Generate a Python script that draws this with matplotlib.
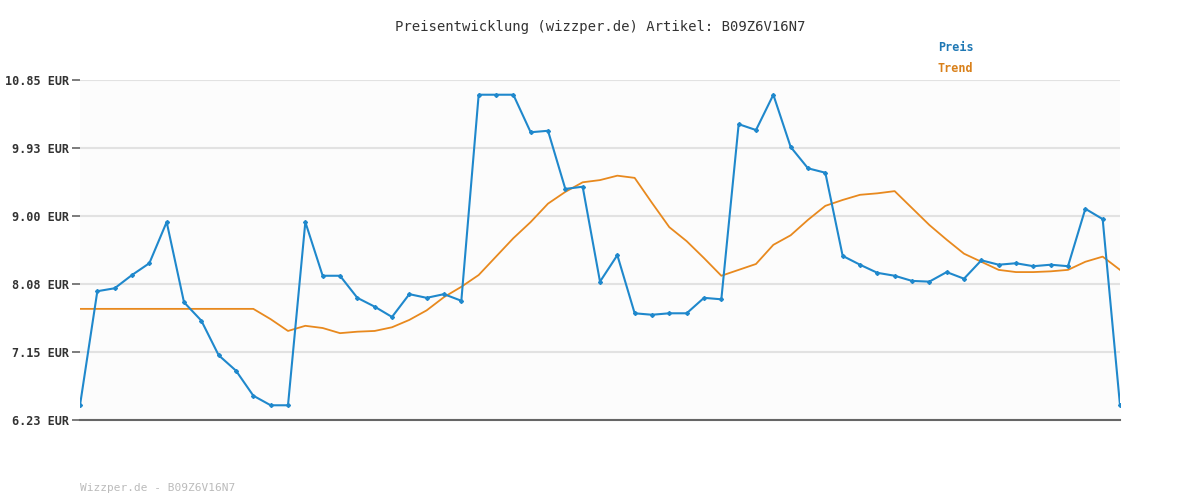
import matplotlib.pyplot as plt

plt.rcParams['font.family'] = 'DejaVu Sans Mono'

preis = [6.43, 7.98, 8.02, 8.20, 8.36, 8.92, 7.83, 7.58, 7.11, 6.90,
         6.56, 6.43, 6.43, 8.92, 8.19, 8.19, 7.89, 7.77, 7.63, 7.94,
         7.89, 7.94, 7.85, 10.65, 10.65, 10.65, 10.14, 10.16, 9.37, 9.40,
         8.11, 8.47, 7.68, 7.66, 7.68, 7.68, 7.89, 7.87, 10.25, 10.17,
         10.65, 9.94, 9.65, 9.59, 8.46, 8.34, 8.23, 8.19, 8.12, 8.11,
         8.24, 8.15, 8.40, 8.34, 8.36, 8.32, 8.34, 8.32, 9.10, 8.96,
         6.43]
trend = [7.74] * 11 + [
         7.60, 7.44, 7.51, 7.48, 7.41, 7.43, 7.44, 7.49, 7.59, 7.72,
         7.90, 8.04, 8.20, 8.45, 8.70, 8.92, 9.17, 9.33, 9.46, 9.49,
         9.55, 9.52, 9.18, 8.85, 8.66, 8.43, 8.19, 8.27, 8.35, 8.61,
         8.74, 8.95, 9.14, 9.22, 9.29, 9.31, 9.34, 9.11, 8.88, 8.68,
         8.49, 8.38, 8.27, 8.24, 8.24, 8.25, 8.27, 8.38, 8.45, 8.27]
yticks = [6.23, 7.15, 8.08, 9.00, 9.93, 10.85]
ytick_labels = ['6.23 EUR', '7.15 EUR', '8.08 EUR', '9.00 EUR', '9.93 EUR', '10.85 EUR']

fig = plt.figure(figsize=(12, 5), dpi=100)
ax = fig.add_axes([80/1200, 0.16, 1040/1200, 0.68])
ax.set_facecolor('#fcfcfc')
x = range(len(preis))
ax.plot(x, trend, color='#e8891e', lw=1.3)
ax.plot(x, preis, color='#1f88cc', lw=1.5, marker='D', markersize=2)
ax.set_xlim(0, len(preis) - 1)
ax.set_ylim(6.23, 10.85)
ax.set_yticks(yticks)
ax.set_yticklabels(ytick_labels, fontsize=8.5, fontweight='bold', color='#333333')
ax.set_xticks([])
ax.grid(axis='y', color='#e2e2e2', lw=1.5)
ax.set_axisbelow(True)
for s in ['top', 'right', 'left']:
    ax.spines[s].set_visible(False)
ax.spines['bottom'].set_color('#666666')
ax.spines['bottom'].set_linewidth(1.5)
ax.tick_params(axis='y', length=6, color='#666666', width=1.2, pad=2)

fig.text(0.5, 0.937, 'Preisentwicklung (wizzper.de) Artikel: B09Z6V16N7',
         ha='center', fontsize=10, color='#333333')
fig.text(938/1200, 0.898, 'Preis', fontsize=8.5, fontweight='bold', color='#1f78b4')
fig.text(938/1200, 0.856, 'Trend', fontsize=8.5, fontweight='bold', color='#d9801a')
fig.text(80/1200, 0.018, 'Wizzper.de - B09Z6V16N7', fontsize=8, color='#bbbbbb')

fig.savefig('out.png')
